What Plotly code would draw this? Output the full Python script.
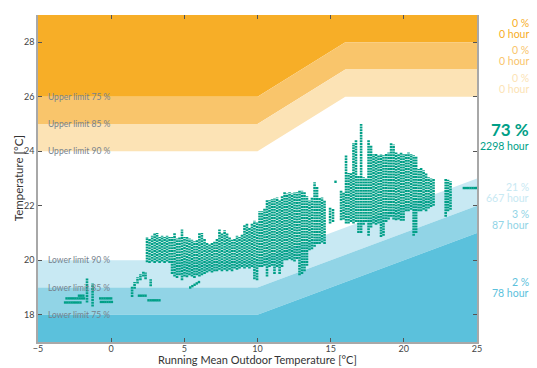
import plotly.graph_objects as go

# ---- comfort band limits ----
band_x = [-5, 10, 16, 25]
upper_75 = [26, 26, 28, 28]
upper_85 = [25, 25, 27, 27]
upper_90 = [24, 24, 26, 26]
lower_x = [-5, 10, 25]
lower_90 = [20, 20, 23]
lower_85 = [19, 19, 22]
lower_75 = [18, 18, 21]
y_lo, y_hi = 17, 29

limit_labels = ["Upper limit 75 %", "Upper limit 85 %", "Upper limit 90 %",
                "Lower limit 90 %", "Lower limit 85 %", "Lower limit 75 %"]
share_pct = [0, 0, 0, 73, 21, 3, 2]
share_hours = [0, 0, 0, 2298, 667, 87, 78]

# ---- hourly indoor temperatures grouped per day: running mean x, min, max ----
col_x = [-1.65, -1.27, 1.43, 1.6, 1.8, 2.0, 2.2, 2.35, 2.7,
         2.45, 2.62, 2.8, 2.97, 3.14, 3.31, 3.48, 3.65, 3.82, 3.99, 4.16, 4.33, 4.5, 4.67, 4.84,
         5.01, 5.18, 5.35, 5.52, 5.69, 5.86, 6.03, 6.2, 6.38, 6.55, 6.72, 6.89, 7.06, 7.23, 7.4,
         7.57, 7.75, 7.92, 8.09, 8.26, 8.43, 8.6, 8.77, 8.94, 9.11, 9.28, 9.45, 9.62, 9.79, 9.97,
         10.14, 10.31, 10.48, 10.65, 10.82, 10.99, 11.16, 11.34, 11.51, 11.68, 11.85, 12.02, 12.19,
         12.36, 12.53, 12.7, 12.87, 13.04, 13.21, 13.38, 13.55, 13.72, 13.9, 14.07, 14.24, 14.41,
         14.58, 14.96, 15.16, 15.71, 15.88,
         16.05, 16.22, 16.39, 16.56, 16.73, 16.9, 17.08, 17.25, 17.42, 17.59, 17.76, 17.93, 18.1,
         18.27, 18.44, 18.61, 18.79, 18.96, 19.13, 19.3, 19.47, 19.64, 19.81, 19.98, 20.15, 20.32,
         20.5, 20.67, 20.84, 21.01, 21.18, 21.35, 21.52, 21.69, 21.86, 22.03, 22.86, 23.02, 23.19]
col_lo = [18.45, 18.3, 18.65, 18.95, 19.15, 19.27, 19.4, 19.3, 19.05,
          19.93, 19.9, 19.95, 19.9, 19.95, 19.9, 19.95, 19.9, 19.95, 19.9, 19.5, 19.4, 19.35, 19.45, 19.27,
          19.4, 19.38, 19.45, 19.4, 19.35, 19.45, 19.4, 19.45, 19.5, 19.55, 19.6, 19.55, 19.6, 19.6, 19.65,
          19.6, 19.65, 19.6, 19.65, 19.6, 19.7, 19.65, 19.7, 19.75, 19.7, 19.75, 19.7, 19.75, 19.3, 19.27,
          19.75, 19.75, 19.8, 19.4, 19.75, 19.8, 19.5, 19.75, 19.5, 19.75, 20.0, 20.0, 20.05,
          20.0, 19.95, 20.05, 19.45, 19.5, 19.6, 19.8, 20.37, 20.4, 20.5, 20.6, 20.6, 20.65,
          20.6, 21.35, 21.4, 21.47, 21.5,
          21.35, 21.35, 21.4, 21.35, 21.4, 21.0, 21.0, 21.3, 21.4, 20.9, 21.2, 21.35, 21.3,
          21.35, 20.85, 20.9, 21.4, 21.5, 21.6, 21.5, 21.47, 21.5, 21.45, 21.45, 21.8, 21.8,
          21.85, 20.9, 21.0, 21.8, 21.8, 21.85, 21.8, 21.9, 21.95, 22.0, 21.6, 21.8, 21.85]
col_hi = [19.35, 19.15, 19.05, 19.2, 19.38, 19.5, 19.6, 19.55, 19.3,
          20.85, 20.8, 20.9, 21.0, 21.0, 20.85, 20.9, 20.85, 20.9, 20.85, 20.85, 21.0, 20.8, 20.85, 21.13,
          20.85, 20.85, 20.8, 20.75, 20.7, 20.75, 21.0, 21.0, 20.8, 20.65, 20.6, 20.65, 20.7, 20.8, 21.13,
          21.0, 21.1, 21.0, 20.85, 20.75, 20.8, 20.9, 20.85, 20.95, 21.3, 21.35, 21.2, 21.35, 21.45, 21.4,
          21.8, 21.8, 21.9, 22.2, 22.2, 22.25, 22.27, 22.3, 22.2, 22.35, 22.5, 22.45, 22.5,
          22.45, 22.5, 22.5, 22.55, 22.55, 22.5, 22.35, 22.2, 22.3, 22.86, 22.7, 22.3, 22.3,
          22.2, 21.95, 21.9, 22.56, 22.5,
          23.85, 23.2, 23.2, 24.3, 24.4, 23.1, 25.0, 23.05, 23.0, 24.4, 24.2, 23.9, 23.9,
          23.85, 23.9, 23.85, 23.9, 23.95, 24.3, 24.25, 23.95, 23.9, 23.95, 23.9, 23.9, 23.95,
          23.9, 23.85, 23.8, 23.35, 23.4, 23.3, 23.2, 23.05, 23.0, 23.0, 23.0, 22.95, 22.9]

# isolated hourly points
pt_x = [-3.05, -2.9, -2.75, -2.6, -2.45, -2.3, -2.15, -2.0, -1.85,
        -3.15, -3.0, -2.85, -2.7, -2.55, -2.4, -2.25, -2.1,
        -2.2, -2.05, -1.9,
        -0.75, -0.6, -0.45, -0.3, -0.15, 0.0,
        -0.7, -0.55, -0.4, -0.25, -0.1, 0.05,
        1.9, 2.05, 2.2, 2.35,
        2.55, 2.7, 2.85, 3.0, 3.15, 3.3,
        5.4, 5.55, 5.7, 5.85, 6.0,
        15.33,
        24.1, 24.25, 24.4, 24.55, 24.7, 24.85, 25.0]
pt_y = [18.6, 18.6, 18.6, 18.6, 18.6, 18.6, 18.6, 18.6, 18.6,
        18.45, 18.45, 18.45, 18.45, 18.45, 18.45, 18.45, 18.45,
        18.7, 18.7, 18.7,
        18.6, 18.6, 18.6, 18.6, 18.6, 18.6,
        18.47, 18.47, 18.47, 18.47, 18.47, 18.47,
        18.7, 18.7, 18.7, 18.7,
        18.53, 18.53, 18.53, 18.53, 18.53, 18.53,
        19.0, 19.05, 19.1, 19.15, 19.2,
        22.88,
        22.65, 22.65, 22.65, 22.65, 22.65, 22.65, 22.65]

# ---- styling ----
FONT = "Lato"
C_UP = ["#F7AE27", "#F9C56B", "#FCE3B5"]
C_LO = ["#C8E9F3", "#91D4E6", "#5BC1DC"]
TEAL = "#009F87"
TXT_COLORS = [C_UP[0], C_UP[1], C_UP[2], TEAL, C_LO[0], C_LO[1], C_LO[2]]

fig = go.Figure()


def band(x, y, fill, color):
    fig.add_trace(go.Scatter(x=x, y=y, mode="lines", line=dict(width=0),
                             fill=fill, fillcolor=color, hoverinfo="skip",
                             showlegend=False))


band(band_x, [y_hi] * len(band_x), None, None)
band(band_x, upper_75, "tonexty", C_UP[0])
band(band_x, upper_85, "tonexty", C_UP[1])
band(band_x, upper_90, "tonexty", C_UP[2])
band(lower_x, lower_90, None, None)
band(lower_x, lower_85, "tonexty", C_LO[0])
band(lower_x, lower_75, "tonexty", C_LO[1])
band(lower_x, [y_lo] * len(lower_x), "tonexty", C_LO[2])

seg_x, seg_y = [], []
for x, lo, hi in zip(col_x, col_lo, col_hi):
    seg_x += [x, x, None]
    seg_y += [lo, hi, None]
fig.add_trace(go.Scatter(x=seg_x, y=seg_y, mode="lines", connectgaps=False,
                         line=dict(color=TEAL, width=2.6, dash="2px,0.75px"),
                         hoverinfo="skip", showlegend=False))
fig.add_trace(go.Scatter(x=pt_x, y=pt_y, mode="markers",
                         marker=dict(symbol="square", size=2.4, color=TEAL, line=dict(width=0)),
                         hoverinfo="skip", showlegend=False))
# dummy trace for top mirrored ticks
fig.add_trace(go.Scatter(x=[None], y=[None], xaxis="x2", showlegend=False, hoverinfo="skip"))

annotations = []
limit_vals = [upper_75[0], upper_85[0], upper_90[0], lower_90[0], lower_85[0], lower_75[0]]
for lab, v in zip(limit_labels, limit_vals):
    annotations.append(dict(x=-4.45, y=v, xref="x", yref="y", text=lab, showarrow=False,
                            xanchor="left", yanchor="middle",
                            font=dict(family=FONT, size=8.5, color="#76828d")))

bounds = [y_hi, upper_75[-1], upper_85[-1], upper_90[-1], lower_90[-1], lower_85[-1], lower_75[-1], y_lo]
for i in range(7):
    mid = (bounds[i] + bounds[i + 1]) / 2
    big = i == 3
    annotations.append(dict(x=1.123, y=mid, xref="paper", yref="y",
                            text=f"<b>{share_pct[i]} %</b>" if big else f"{share_pct[i]} %",
                            showarrow=False, xanchor="right", yanchor="middle",
                            yshift=8.5 if big else 5.5,
                            font=dict(family=FONT, size=17 if big else 10.5, color=TXT_COLORS[i])))
    annotations.append(dict(x=1.123, y=mid, xref="paper", yref="y",
                            text=f"{share_hours[i]} hour", showarrow=False,
                            xanchor="right", yanchor="middle",
                            yshift=-8.5 if big else -5.5,
                            font=dict(family=FONT, size=10.5, color=TXT_COLORS[i])))

annotations.append(dict(x=0.5, y=-0.055, xref="paper", yref="paper",
                        text="Running Mean Outdoor Temperature [°C]", showarrow=False,
                        xanchor="center", yanchor="middle",
                        font=dict(family=FONT, size=11, color="#333")))
annotations.append(dict(x=-0.044, y=0.5, xref="paper", yref="paper",
                        text="Temperature [°C]", showarrow=False, textangle=-90,
                        xanchor="center", yanchor="middle",
                        font=dict(family=FONT, size=11.5, color="#333")))

axis_common = dict(showgrid=False, zeroline=False, ticks="inside", ticklen=4,
                   tickwidth=1, tickcolor="#555", linecolor="#a8a8a8", linewidth=1.5,
                   tickfont=dict(family=FONT, size=9, color="#444"))

fig.update_layout(
    width=537, height=368,
    margin=dict(l=38, r=60, t=15, b=26),
    paper_bgcolor="white", plot_bgcolor="white",
    showlegend=False,
    xaxis=dict(range=[-5, 25], tickvals=[-5, 0, 5, 10, 15, 20, 25], showline=True,
               mirror=False, ticklabelstandoff=-3, **axis_common),
    xaxis2=dict(range=[-5, 25], overlaying="x", side="top", matches="x",
                tickvals=[-5, 0, 5, 10, 15, 20, 25], showticklabels=False, showline=False,
                showgrid=False, zeroline=False, ticks="inside", ticklen=4, tickwidth=1,
                tickcolor="#555"),
    yaxis=dict(range=[y_lo, y_hi], tickvals=[18, 20, 22, 24, 26, 28], showline=True,
               mirror="ticks", **axis_common),
    annotations=annotations,
)

fig.write_html("out.html")
